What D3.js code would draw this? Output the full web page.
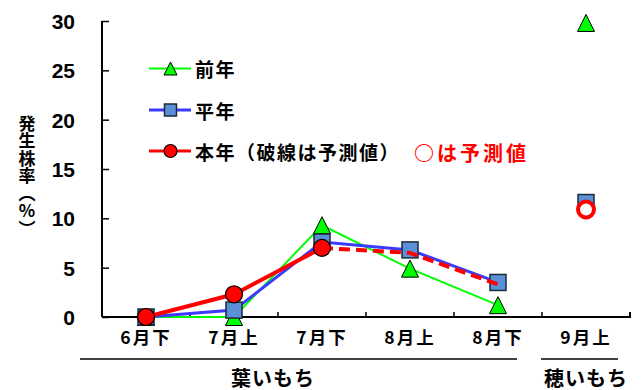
<!DOCTYPE html>
<html>
<head>
<meta charset="utf-8">
<script src="https://cdn.jsdelivr.net/npm/d3@7"></script>
<style>
  html, body { margin: 0; padding: 0; background: #fff; }
  svg { display: block; }
  text { font-family: "Noto Sans CJK JP", "Noto Sans", sans-serif; font-weight: 700; }
  .ytitle { writing-mode: vertical-rl; text-orientation: upright; }
</style>
</head>
<body>
<svg id="chart" width="644" height="390"></svg>
<script>
// Categories (leaf blast: 6月下〜8月下, panicle blast: 9月上)
const categories = ["6月下", "7月上", "7月下", "8月上", "8月下", "9月上"];
const leafCategories = ["6月下", "7月上", "7月下", "8月上", "8月下"];
const panicleCategories = ["9月上"];

// Incidence (%) per series
const prevYear   = [0, 0, 9.3, 4.9, 1.2, 29.8];   // 前年
const normalYear = [0, 0.7, 7.6, 6.8, 3.5, 11.6]; // 平年
const thisYearObserved = [0, 2.3, 7.0];           // 本年 実測 (6月下〜7月下)
const thisYearForecastCats = ["7月下", "8月上", "8月下"];
const thisYearForecast = [7.0, 6.5, 3.3];         // 本年 予測 (破線)
const panicleForecast = [10.9];                   // 9月上 予測値 (○)

const yTicks = [0, 5, 10, 15, 20, 25, 30];
const yTitle = "発生株率（%）";
const legendLabels = ["前年", "平年", "本年（破線は予測値）"];

const svg = d3.select("#chart");

const x = d3.scaleBand().domain(categories).range([102, 630]).padding(0);
const y = d3.scaleLinear().domain([0, 30]).range([317, 21]);
const cx = c => x(c) + x.bandwidth() / 2;

const green = "#00ff00", blue = "#3b3bff", red = "#ff0000";
const squareFill = "#5b8fd6", squareStroke = "#1c2b3c";

// Marker helpers
function triangle(g, px, py, s) {
  g.append("path")
    .attr("d", `M${px},${py - s / 2}L${px + s / 2},${py + s / 2}L${px - s / 2},${py + s / 2}Z`)
    .attr("fill", green).attr("stroke", "#000").attr("stroke-width", 1);
}
function square(g, px, py, s) {
  g.append("rect").attr("x", px - s / 2).attr("y", py - s / 2)
    .attr("width", s).attr("height", s)
    .attr("fill", squareFill).attr("stroke", squareStroke).attr("stroke-width", 1.5);
}
function dot(g, px, py, r) {
  g.append("circle").attr("cx", px).attr("cy", py).attr("r", r)
    .attr("fill", red).attr("stroke", "#000").attr("stroke-width", 1.2);
}

// Axes
const yAxis = d3.axisLeft(y).tickValues(yTicks).tickSize(-7).tickPadding(27).tickFormat(d3.format("d"));
const gy = svg.append("g").attr("transform", "translate(102,0)").call(yAxis);
gy.select(".domain").attr("stroke", "#000").attr("stroke-width", 2).attr("d", `M0,${y(30)}V${y(0)}`);
gy.selectAll(".tick line").attr("stroke", "#000").attr("stroke-width", 1.5);
gy.selectAll(".tick text")
  .style("font-family", "'Liberation Sans', Arial, sans-serif")
  .attr("font-size", 21).attr("fill", "#000").attr("dy", "0.36em");

const xAxis = d3.axisBottom(x).tickSize(0).tickPadding(18);
const gx = svg.append("g").attr("transform", `translate(0,${y(0)})`).call(xAxis);
gx.select(".domain").attr("stroke", "#000").attr("stroke-width", 2)
  .attr("d", `M102,0H630V-5`);
gx.selectAll(".tick text").attr("font-size", 17.5).attr("fill", "#000")
  .attr("letter-spacing", "2px").attr("dy", "0.5em");

// tick marks at category boundaries
svg.append("g").selectAll("line")
  .data(categories.slice(1))
  .join("line")
  .attr("x1", d => x(d)).attr("x2", d => x(d))
  .attr("y1", y(0)).attr("y2", y(0) - 5)
  .attr("stroke", "#000").attr("stroke-width", 1.5);

// Y axis title (vertical)
svg.append("text")
  .attr("class", "ytitle")
  .attr("x", 27)
  .attr("y", 115)
  .attr("font-size", 17)
  .attr("letter-spacing", "0.5px")
  .attr("fill", "#000")
  .text(yTitle);

// Series lines
const line = d3.line().x(d => cx(d[0])).y(d => y(d[1]));
const plot = svg.append("g");

// 前年
plot.append("path")
  .attr("d", line(leafCategories.map((c, i) => [c, prevYear[i]])))
  .attr("fill", "none").attr("stroke", green).attr("stroke-width", 2);
categories.forEach((c, i) => triangle(plot, cx(c), y(prevYear[i]), 17));

// 平年
plot.append("path")
  .attr("d", line(leafCategories.map((c, i) => [c, normalYear[i]])))
  .attr("fill", "none").attr("stroke", blue).attr("stroke-width", 3);
categories.forEach((c, i) => square(plot, cx(c), y(normalYear[i]), 16));

// 本年 実測 + 予測
plot.append("path")
  .attr("d", line(thisYearObserved.map((v, i) => [leafCategories[i], v])))
  .attr("fill", "none").attr("stroke", red).attr("stroke-width", 4);
plot.append("path")
  .attr("d", line(thisYearForecast.map((v, i) => [thisYearForecastCats[i], v])))
  .attr("fill", "none").attr("stroke", red).attr("stroke-width", 4)
  .attr("stroke-dasharray", "11,6");
thisYearObserved.forEach((v, i) => dot(plot, cx(leafCategories[i]), y(v), 8.5));

// 9月上 予測値 (open circle)
panicleCategories.forEach((c, i) => {
  plot.append("circle").attr("cx", cx(c)).attr("cy", y(panicleForecast[i])).attr("r", 8)
    .attr("fill", "#fff").attr("stroke", red).attr("stroke-width", 4);
});

// Legend
const legendRows = [68.5, 110, 151];
const legend = svg.append("g");
const legendColors = [green, blue, red];
const legendWidths = [2, 3, 3];
legendLabels.forEach((label, i) => {
  const ly = legendRows[i];
  legend.append("line").attr("x1", 149).attr("x2", 191).attr("y1", ly).attr("y2", ly)
    .attr("stroke", legendColors[i]).attr("stroke-width", legendWidths[i]);
  if (i === 0) triangle(legend, 170.5, ly, 13);
  if (i === 1) square(legend, 170.5, ly, 12);
  if (i === 2) dot(legend, 170.5, ly, 6.5);
  legend.append("text").attr("x", 195).attr("y", ly)
    .attr("dominant-baseline", "central")
    .attr("font-size", 19).attr("letter-spacing", "1.5px").attr("fill", "#000")
    .text(label);
});
svg.append("text").attr("x", 414).attr("y", 152)
  .attr("dominant-baseline", "central")
  .attr("font-size", 20).attr("letter-spacing", "3px").attr("fill", red)
  .text("○は予測値");

// Group labels under the axis
const groups = [
  { name: "葉いもち", x1: 80, x2: 517, tx: 273 },
  { name: "穂いもち", x1: 541, x2: 618, tx: 586 }
];
const gg = svg.append("g");
groups.forEach(g => {
  gg.append("line").attr("x1", g.x1).attr("x2", g.x2).attr("y1", 359).attr("y2", 359)
    .attr("stroke", "#000").attr("stroke-width", 1.5);
  gg.append("text").attr("x", g.tx).attr("y", 377)
    .attr("text-anchor", "middle").attr("dominant-baseline", "central")
    .attr("font-size", 20).attr("letter-spacing", "1px").attr("fill", "#000")
    .text(g.name);
});
</script>
</body>
</html>
